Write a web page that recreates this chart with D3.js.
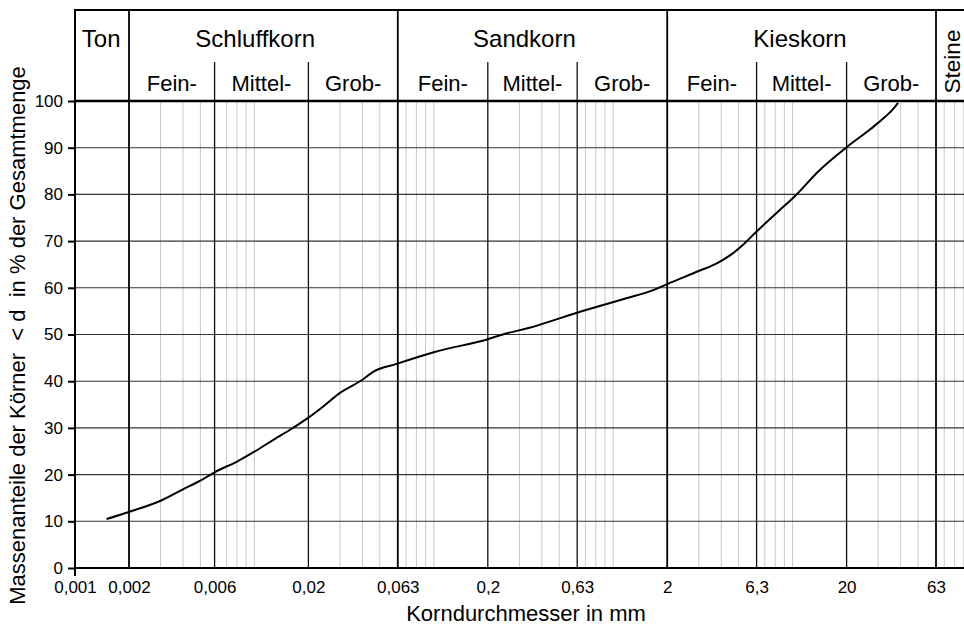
<!DOCTYPE html>
<html>
<head>
<meta charset="utf-8">
<script src="https://cdn.jsdelivr.net/npm/d3@7"></script>
<style>
  html, body { margin: 0; padding: 0; background: #fff; }
  svg { display: block; }
  text { font-family: "Liberation Sans", Arial, Helvetica, sans-serif; fill: #000; }
</style>
</head>
<body>
<svg id="chart" width="964" height="626"></svg>
<script>
// ---------- data ----------
const diameters = [0.0015, 0.002, 0.003, 0.004, 0.005, 0.006, 0.008, 0.01, 0.0127, 0.0158,
  0.02, 0.0242, 0.03, 0.04, 0.0459, 0.062, 0.1, 0.2, 0.253, 0.346, 0.61, 1.17, 1.67, 2.0,
  3.0, 3.76, 4.5, 5.39, 6.2, 8.08, 10.6, 13.9, 20, 27.2, 32.6, 36.4, 38.7];
const passing = [10.5, 12.0, 14.4, 16.85, 18.7, 20.5, 22.8, 24.9, 27.4, 29.6,
  32.2, 34.6, 37.5, 40.3, 42.0, 43.7, 46.2, 49.0, 50.2, 51.5, 54.5, 57.7, 59.5, 60.8,
  63.6, 65.2, 67.0, 69.5, 71.8, 75.9, 80.1, 84.9, 90.1, 94.0, 96.5, 98.3, 99.6];

const xTickValues = [0.001, 0.002, 0.006, 0.02, 0.063, 0.2, 0.63, 2, 6.3, 20, 63];
const xTickLabels = ["0,001", "0,002", "0,006", "0,02", "0,063", "0,2", "0,63", "2", "6,3", "20", "63"];
const yTickValues = [0, 10, 20, 30, 40, 50, 60, 70, 80, 90, 100];

const mainBounds = [0.002, 0.063, 2, 63];
const subBounds = [0.006, 0.02, 0.2, 0.63, 6.3, 20];
const minorLines = [0.003, 0.004, 0.005, 0.007, 0.008, 0.009, 0.01,
  0.03, 0.04, 0.05, 0.07, 0.08, 0.09, 0.1,
  0.3, 0.4, 0.5, 0.7, 0.8, 0.9, 1,
  3, 4, 5, 7, 8, 9, 10,
  30, 40, 50, 70, 80, 90];

const mainClasses = ["Ton", "Schluffkorn", "Sandkorn", "Kieskorn", "Steine"];
// grain size (mm) at which each main class label is centred
const mainClassAnchors = [0.0014, 0.0101, 0.32, 11, 80];
const subClasses = ["Fein-", "Mittel-", "Grob-"];
const subClassRanges = [
  [0.002, 0.006], [0.006, 0.02], [0.02, 0.063],
  [0.063, 0.2], [0.2, 0.63], [0.63, 2],
  [2, 6.3], [6.3, 20], [20, 63]
];

const xTitle = "Korndurchmesser in mm";
const yTitle = "Massenanteile der Körner  < d  in % der Gesamtmenge";

// ---------- layout ----------
const W = 964, H = 626;
const mLeft = 75, decade = 179.4;
const mTop = 10, subTop = 62, plotTop = 101, plotBottom = 568;

const svg = d3.select("#chart");
const x = d3.scaleLog().domain([0.001, 100]).range([mLeft, mLeft + decade * 5]);
const y = d3.scaleLinear().domain([0, 100]).range([plotBottom, plotTop]);
const mRight = W + 2;

// minor (gray) verticals
svg.append("g").selectAll("line").data(minorLines).join("line")
  .attr("x1", d => x(d)).attr("x2", d => x(d))
  .attr("y1", plotTop).attr("y2", plotBottom)
  .attr("stroke", "#c8c8c8").attr("stroke-width", 1);

// horizontal grid lines
svg.append("g").selectAll("line").data(yTickValues.filter(v => v > 0 && v < 100)).join("line")
  .attr("x1", mLeft).attr("x2", mRight)
  .attr("y1", d => y(d)).attr("y2", d => y(d))
  .attr("stroke", "#333").attr("stroke-width", 1.1);

// sub-division verticals (into header)
svg.append("g").selectAll("line").data(subBounds).join("line")
  .attr("x1", d => x(d)).attr("x2", d => x(d))
  .attr("y1", subTop).attr("y2", plotBottom)
  .attr("stroke", "#111").attr("stroke-width", 1.3);

// main division verticals (full height)
svg.append("g").selectAll("line").data(mainBounds).join("line")
  .attr("x1", d => x(d)).attr("x2", d => x(d))
  .attr("y1", mTop).attr("y2", plotBottom)
  .attr("stroke", "#000").attr("stroke-width", 1.8);

// frame lines
svg.append("line").attr("x1", mLeft).attr("x2", mRight).attr("y1", mTop).attr("y2", mTop)
  .attr("stroke", "#000").attr("stroke-width", 2);
svg.append("line").attr("x1", mLeft).attr("x2", mRight).attr("y1", y(100)).attr("y2", y(100))
  .attr("stroke", "#000").attr("stroke-width", 2.5);
svg.append("line").attr("x1", mLeft).attr("x2", mRight).attr("y1", y(0)).attr("y2", y(0))
  .attr("stroke", "#000").attr("stroke-width", 2);
svg.append("line").attr("x1", x(0.001)).attr("x2", x(0.001)).attr("y1", mTop - 1).attr("y2", plotBottom + 8)
  .attr("stroke", "#000").attr("stroke-width", 2);

// y axis
const yAxis = svg.append("g").attr("transform", `translate(${mLeft},0)`)
  .call(d3.axisLeft(y).tickValues(yTickValues).tickSize(7).tickPadding(5));
yAxis.select(".domain").remove();
yAxis.selectAll(".tick line").attr("stroke", "#000").attr("stroke-width", 2);
yAxis.selectAll(".tick text").attr("font-size", 17).attr("font-family", null).attr("fill", "#000");

// x axis labels
const xAxis = svg.append("g").attr("transform", `translate(0,${plotBottom})`)
  .call(d3.axisBottom(x).tickValues(xTickValues).tickFormat((d, i) => xTickLabels[i]).tickSize(0).tickPadding(13));
xAxis.select(".domain").remove();
xAxis.selectAll(".tick text").attr("font-size", 17).attr("font-family", null).attr("fill", "#000");

// header labels
const geoMid = r => Math.sqrt(r[0] * r[1]);
svg.append("g").selectAll("text").data(mainClasses.slice(0, 4)).join("text")
  .attr("x", (d, i) => x(mainClassAnchors[i]))
  .attr("y", 47)
  .attr("text-anchor", "middle")
  .attr("font-size", 24)
  .text(d => d);
svg.append("text")
  .attr("transform", `translate(${x(63) + 24},${(mTop + plotTop) / 2 + 6}) rotate(-90)`)
  .attr("text-anchor", "middle")
  .attr("font-size", 22.5)
  .text(mainClasses[4]);

svg.append("g").selectAll("text").data(subClassRanges).join("text")
  .attr("x", d => x(geoMid(d)))
  .attr("y", 91)
  .attr("text-anchor", "middle")
  .attr("font-size", 22)
  .text((d, i) => subClasses[i % 3]);

// titles
svg.append("text")
  .attr("x", 526).attr("y", 621)
  .attr("text-anchor", "middle").attr("font-size", 22)
  .text(xTitle);
svg.append("text")
  .attr("transform", `translate(25,${(plotTop + plotBottom) / 2 + 1}) rotate(-90)`)
  .attr("text-anchor", "middle").attr("font-size", 22)
  .style("white-space", "pre")
  .text(yTitle);

// grading curve
const line = d3.line()
  .x((d, i) => x(diameters[i]))
  .y((d, i) => y(passing[i]))
  .curve(d3.curveMonotoneX);
svg.append("path")
  .datum(passing)
  .attr("d", line)
  .attr("fill", "none")
  .attr("stroke", "#000")
  .attr("stroke-width", 2);
</script>
</body>
</html>
